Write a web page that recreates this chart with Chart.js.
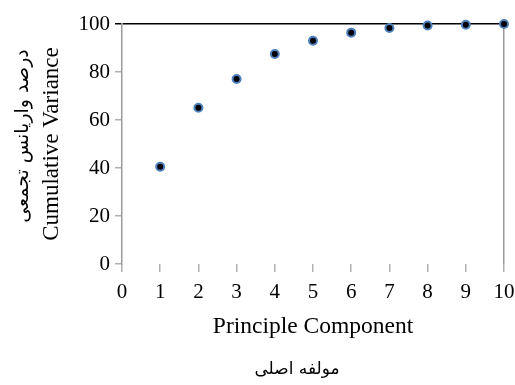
<!DOCTYPE html>
<html>
<head>
<meta charset="utf-8">
<script src="https://cdn.jsdelivr.net/npm/chart.js@4"></script>
<style>
    body { margin: 0; background: #fff; }
    #wrap { width: 515px; height: 385px; }
</style>
</head>
<body>
<div id="wrap"><canvas id="pcaChart"></canvas></div>
<script>
// component numbers and cumulative variance (%)
const components = [1, 2, 3, 4, 5, 6, 7, 8, 9, 10];
const cumVariance = [40.5, 65.1, 77.1, 87.5, 93.0, 96.4, 98.3, 99.4, 99.7, 100];
const xTicks = [0, 1, 2, 3, 4, 5, 6, 7, 8, 9, 10];
const yTicks = [0, 20, 40, 60, 80, 100];

const xTitle = "Principle Component";
const yTitle = "Cumulative Variance";
const xTitleFa = "مولفه اصلی";
const yTitleFa = "درصد واریانس تجمعی";

document.addEventListener("DOMContentLoaded", function () {
    let ctx = document.getElementById("pcaChart").getContext("2d");
    const serif = '"Liberation Serif", "Times New Roman", serif';

    // Persian captions under / beside the English axis titles
    const persianTitles = {
        id: "persianTitles",
        afterDraw(chart) {
            const c = chart.ctx;
            c.save();
            c.fillStyle = "#000";
            c.textAlign = "center";
            c.textBaseline = "middle";
            c.direction = "rtl";
            c.font = '17px "DejaVu Sans"';
            c.fillText(xTitleFa, 297, 370);
            c.font = '19px "DejaVu Sans"';
            c.translate(23, 136);
            c.rotate(-Math.PI / 2);
            c.fillText(yTitleFa, 0, 0);
            c.restore();
        }
    };

    new Chart(ctx, {
        type: "scatter",
        data: {
            datasets: [{
                data: components.map((c, i) => ({ x: c, y: cumVariance[i] })),
                pointBackgroundColor: "#000",
                pointBorderColor: "#4f81bd",
                pointBorderWidth: 2,
                pointRadius: 4,
                clip: false
            }]
        },
        options: {
            responsive: true,
            maintainAspectRatio: false,
            animation: false,
            layout: { padding: { top: 24, right: 0, left: 0, bottom: 0 } },
            plugins: {
                legend: { display: false },
                tooltip: { enabled: false }
            },
            scales: {
                x: {
                    type: "linear",
                    min: 0,
                    max: 10,
                    afterBuildTicks: (s) => { s.ticks = xTicks.map(v => ({ value: v })); },
                    afterFit: (s) => { s.height = 121; s.paddingRight = 11; },
                    border: { display: false },
                    grid: {
                        drawOnChartArea: true,
                        color: (c) => c.tick && c.tick.value === 10 ? "#9a9a9a" : "transparent",
                        tickColor: "#b0b0b0",
                        tickLength: 8,
                        lineWidth: 1.5
                    },
                    ticks: {
                        color: "#000",
                        font: { family: serif, size: 21 },
                        padding: 8,
                        maxRotation: 0
                    },
                    title: {
                        display: true,
                        text: xTitle,
                        color: "#000",
                        font: { family: serif, size: 23.5 },
                        padding: { top: 0, bottom: 44 }
                    }
                },
                y: {
                    min: 0,
                    max: 100,
                    afterBuildTicks: (s) => { s.ticks = yTicks.map(v => ({ value: v })); },
                    afterFit: (s) => { s.width = 122; },
                    border: { color: "#9a9a9a", width: 1.5 },
                    grid: {
                        color: (c) => c.tick && c.tick.value === 100 ? "#000" : "transparent",
                        tickColor: (c) => c.tick && c.tick.value === 100 ? "#000" : "#b0b0b0",
                        tickLength: 7,
                        lineWidth: 1.5
                    },
                    ticks: {
                        color: "#000",
                        font: { family: serif, size: 21 },
                        padding: 5
                    },
                    title: {
                        display: true,
                        text: yTitle,
                        color: "#000",
                        font: { family: serif, size: 23 },
                        padding: { top: 38, bottom: 0 }
                    }
                }
            }
        },
        plugins: [persianTitles]
    });
});
</script>
</body>
</html>
